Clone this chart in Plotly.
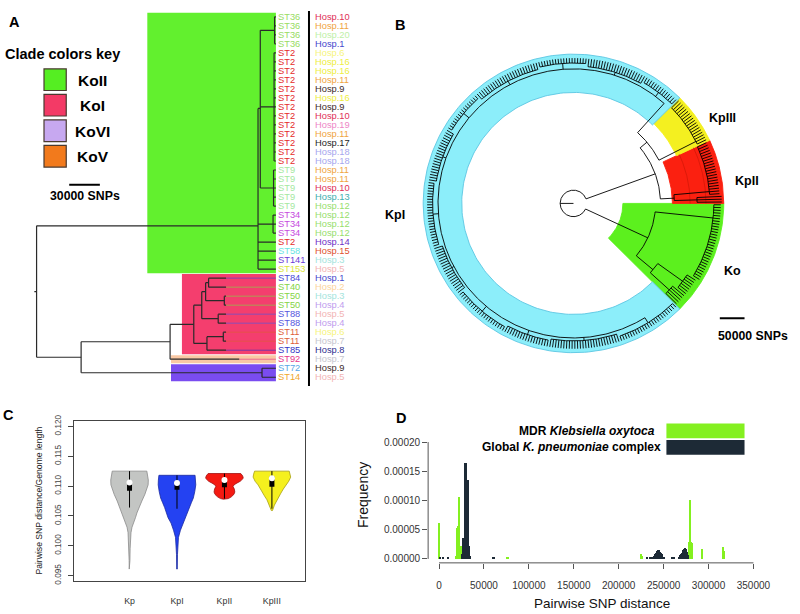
import numpy as np
import plotly.graph_objects as go

W, H = 800, 614
FONT = "Liberation Sans, Arial, sans-serif"


def PX(x):
    return x / W


def PY(y):
    return 1 - y / H


# ====================== Panel A data ======================
st_labels = (["ST36"] * 4 + ["ST2"] * 13 + ["ST9"] * 5 + ["ST34"] * 3 +
             ["ST2", "ST58", "ST141", "ST153", "ST84", "ST40", "ST50", "ST50",
              "ST88", "ST88", "ST11", "ST11", "ST85", "ST92", "ST72", "ST14"])
hosp_labels = [10, 11, 20, 1, 6, 16, 16, 11, 9, 16, 9, 10, 19, 11, 17, 18, 18,
               11, 11, 10, 13, 12, 12, 12, 12, 14, 15, 3, 5,
               1, 2, 3, 4, 5, 4, 6, 7, 8, 7, 9, 5]
st_colors = {"ST36": "#98dc62", "ST2": "#e52a2a", "ST9": "#a4e8a0", "ST34": "#c64ade",
             "ST58": "#6ae4e4", "ST141": "#6a3ad6", "ST153": "#dce43a", "ST84": "#4848d6",
             "ST40": "#84d444", "ST50": "#84d444", "ST88": "#5656de", "ST11": "#de5e38",
             "ST85": "#3434c4", "ST92": "#e6368a", "ST72": "#58a6e6", "ST14": "#f0a62a"}
hosp_colors = {1: "#4646cc", 2: "#fcd49c", 3: "#a4e4dc", 4: "#c09cee", 5: "#f2b4b4",
               6: "#f6f47c", 7: "#c6c6ce", 8: "#2e2e8e", 9: "#402a2a", 10: "#e02e56",
               11: "#f0a43e", 12: "#96de6c", 13: "#3eaeae", 14: "#6e2ec6", 15: "#e0502e",
               16: "#eeee3e", 17: "#1e1e1e", 18: "#a6a6ee", 19: "#ee86c6", 20: "#bef0a6"}

# tree topology: (node depth in SNPs, [children]); ints are leaf rows
treeA = (0, [
    (216800, [
        (219000, [(233000, [0, 1, 2, 3]), (232500, list(range(4, 17))),
                  (232000, [17, 18, 19, 20, 21])]),
        (231500, [22, 23, 24]),
        25, 26, 27, 28,
    ]),
    (43600, [
        (130700, [
            (153900, [
                (161700, [
                    (165500, [(168400, [29, 30]), (183800, [31, 32])]),
                    (177800, [33, 34]),
                ]),
                (166800, [(182800, [35, 36]), 37]),
            ]),
            38,
        ]),
        (220700, [39, 40]),
    ]),
])
tipA = [234300] * 29 + [185500] * 9 + [198400] + [234300] * 2
align_tip = 234300

cladeA_first = [0, 29, 38, 39]
cladeA_last = [28, 37, 38, 40]
cladeA_start = [108400, 142300, 131600, 131600]
cladeA_fill = ["#62f02e", "#f43e6e", "#f9c8a4", "#7a4cf0"]

legendA_names = ["KoII", "KoI", "KoVI", "KoV"]
legendA_colors = ["#55ee22", "#f33a66", "#c7a8f0", "#f27a1c"]
scaleA_snps = 30000

# ====================== Panel B data ======================
sectorB_names = ["Ko", "KpII", "KpIII", "KpI"]
sectorB_start = [315, 0, 25, 45]
sectorB_end = [360, 25, 45, 315]
sectorB_inner = [100000, 200000, 230000, 226000]
sectorB_outer = [304000, 304000, 304000, 304000]
sectorB_fill = ["#5cf01e", "#fb2010", "#f4f020", "#8ceefa"]
sectorB_line = ["#5cf01e", "#fb2010", "#f4f020", "#5cc6e2"]
kpII_band_radii = [236000, 268000]

kpI_comb_sizes = [14, 22, 18, 25, 16, 20, 24, 19, 21, 17, 26, 24]
kpI_comb_radii = [284000, 280000, 286000, 282000, 288000, 281000,
                  285000, 279000, 287000, 283000, 280000, 286000]

treeB = {"r": 27000, "a": 180, "kids": [
    {"r": 166000, "a": 335, "kids": [                      # Ko
        {"r": 210000, "a": 320, "kids": [
            {"comb": 5, "r": 262000, "tip": 292000},
            {"comb": 7, "r": 272000, "tip": 292000}]},
        {"comb": 29, "r": 284000, "tip": 298000, "a": 354}]},
    {"r": 176000, "a": 20, "kids": [                       # Kp
        {"r": 204000, "a": 3, "kids": [                    # KpII
            {"comb": 3, "r": 250000, "tip": 300000},
            {"comb": 20, "r": 276000, "tip": 296000, "a": 5}]},
        {"r": 194000, "a": 40, "kids": [
            {"comb": 18, "r": 278000, "tip": 298000, "a": 27},   # KpIII
            {"r": 274000, "a": 48, "kids": [                     # KpI
                {"comb": n, "r": r, "tip": 296000}
                for n, r in zip(kpI_comb_sizes, kpI_comb_radii)]}]}]}]}
scaleB_snps = 50000

# ====================== Panel C data ======================
vio_names = ["Kp", "KpI", "KpII", "KpIII"]
vio_fill = ["#c3c5c3", "#2442f2", "#f41a12", "#f5f01e"]
vio_line = ["#8a8a8a", "#1a2aa0", "#a01010", "#a8a010"]
vio_vals = [
    [0.1125, 0.1118, 0.1110, 0.1102, 0.1094, 0.1086, 0.1075, 0.1064, 0.1055, 0.1047,
     0.1040, 0.1031, 0.1022, 0.1010, 0.0995, 0.0975, 0.0961],
    [0.1118, 0.1110, 0.1102, 0.1091, 0.1080, 0.1072, 0.1064, 0.1055, 0.1047, 0.1038,
     0.1026, 0.1014, 0.1000, 0.0985, 0.0961],
    [0.1121, 0.1117, 0.1113, 0.1108, 0.1104, 0.1100, 0.1095, 0.1090, 0.1086, 0.1082,
     0.1079, 0.1078],
    [0.1125, 0.1120, 0.1115, 0.1108, 0.1102, 0.1095, 0.1088, 0.1082, 0.1077, 0.1072,
     0.1068, 0.1063, 0.1059],
]
vio_width = [
    [0.365, 0.385, 0.396, 0.392, 0.365, 0.323, 0.260, 0.198, 0.156, 0.125,
     0.094, 0.052, 0.031, 0.019, 0.0125, 0.008, 0.006],
    [0.381, 0.392, 0.396, 0.375, 0.344, 0.302, 0.260, 0.219, 0.188, 0.125,
     0.073, 0.031, 0.017, 0.010, 0.006],
    [0.344, 0.385, 0.396, 0.333, 0.240, 0.177, 0.208, 0.219, 0.198, 0.146,
     0.083, 0.021],
    [0.365, 0.385, 0.396, 0.354, 0.292, 0.240, 0.188, 0.146, 0.104, 0.073,
     0.052, 0.031, 0.0125],
]
box_lw = [0.1064, 0.1062, 0.1079, 0.1062]
box_q1 = [0.1092, 0.1094, 0.1098, 0.1099]
box_med = [0.1106, 0.1105, 0.1110, 0.1113]
box_q3 = [0.1109, 0.1108, 0.1113, 0.1116]
box_uw = [0.1125, 0.1118, 0.1121, 0.1125]
c_yticks = [0.095, 0.100, 0.105, 0.110, 0.115, 0.120]

# ====================== Panel D data ======================
green_x = [500, 19000, 20000, 21000, 22000, 23000, 24000, 25000, 34000, 35000,
           76000, 77000, 225000, 226000, 279000, 280000, 281000, 282000, 293000,
           316000, 317000, 318000]
green_y = [0.000060, 0.000004, 0.000052, 0.000055, 0.000106, 0.000104, 0.000022,
           0.000022, 0.000006, 0.000003, 0.000003, 0.000003, 0.000007, 0.000005,
           0.000028, 0.000101, 0.000028, 0.000027, 0.000016, 0.000019, 0.000013,
           0.000013]
dark_x = [1000, 5000, 10000, 26000, 27000, 28000, 29000, 30000, 31000, 32000, 33000,
          34000, 35000, 60000, 61000, 232000, 235000, 237000, 239000, 240000, 241000,
          242000, 243000, 244000, 245000, 246000, 247000, 248000, 249000, 250000,
          251000, 260000, 261000, 262000, 267000, 268000, 269000, 270000, 271000,
          272000, 273000, 274000, 275000, 276000, 277000]
dark_y = [0.0000015, 0.000001, 0.000001, 0.000008, 0.000035, 0.000036, 0.000164,
          0.000163, 0.000135, 0.000134, 0.000024, 0.000022, 0.000004, 0.000002,
          0.000002, 0.000002, 0.000003, 0.000003, 0.000004, 0.000005, 0.000007,
          0.000010, 0.000013, 0.000014, 0.000014, 0.000012, 0.000010, 0.000007,
          0.000005, 0.000003, 0.000002, 0.000003, 0.000003, 0.000002, 0.000003,
          0.000004, 0.000006, 0.000008, 0.000010, 0.000014, 0.000017, 0.000018,
          0.000016, 0.000012, 0.000006]
d_xticks = [0, 50000, 100000, 150000, 200000, 250000, 300000, 350000]
d_yticks = [0, 0.00005, 0.00010, 0.00015, 0.00020]
legendD_labels = ["<b>MDR <i>Klebsiella oxytoca</i></b>",
                  "<b>Global <i>K. pneumoniae</i> complex</b>"]
legendD_colors = ["#84f020", "#1d2a36"]

# ====================== build figure ======================
fig = go.Figure()
shapes, annos = [], []


def txt(x, y, s, size, color="black", xanchor="center", yanchor="middle",
        angle=0, xref="paper", yref="paper"):
    annos.append(dict(x=x, y=y, text=s, xref=xref, yref=yref, showarrow=False,
                      xanchor=xanchor, yanchor=yanchor, textangle=angle,
                      borderpad=0, borderwidth=0,
                      font=dict(size=size, color=color, family=FONT)))


# ---------- Panel A ----------
A_SNP_PER_PX, A_ROOT_PX = 968, 37
ROW0, ROWH = 10, 9.175

for f, l, s, c in zip(cladeA_first, cladeA_last, cladeA_start, cladeA_fill):
    shapes.append(dict(type="rect", xref="x", yref="y", x0=s, x1=align_tip,
                       y0=f - 0.45, y1=l + 0.45, fillcolor=c, line=dict(width=0),
                       layer="below"))

segx, segy = [], []


def add_seg(x0, y0, x1, y1):
    segx.extend([x0, x1, None])
    segy.extend([y0, y1, None])


def layoutA(node, parent_d):
    if isinstance(node, int):
        add_seg(parent_d, node, tipA[node], node)
        return node
    d, kids = node
    ys = [layoutA(k, d) for k in kids]
    y = sum(ys) / len(ys)
    add_seg(d, min(ys), d, max(ys))
    if parent_d is not None:
        add_seg(parent_d, y, d, y)
    else:
        add_seg(-2200, y, d, y)
    return y


layoutA(treeA, None)

# aligned tip extensions
for i in range(41):
    if tipA[i] < align_tip:
        fig.add_trace(go.Scatter(x=[tipA[i], align_tip], y=[i, i], mode="lines",
                                 line=dict(color=st_colors[st_labels[i]], width=1),
                                 opacity=0.65, hoverinfo="skip", xaxis="x", yaxis="y"))
fig.add_trace(go.Scatter(x=segx, y=segy, mode="lines",
                         line=dict(color="#2a2a2a", width=1.2),
                         hoverinfo="skip", xaxis="x", yaxis="y"))

for i in range(41):
    txt(PX(281.5), i, st_labels[i], 9.3, st_colors[st_labels[i]], xanchor="left", yref="y")
    txt(PX(318.5), i, "Hosp.%d" % hosp_labels[i], 9.3, hosp_colors[hosp_labels[i]],
        xanchor="left", yref="y")
shapes.append(dict(type="line", xref="paper", yref="paper", x0=PX(312.5), x1=PX(312.5),
                   y0=PY(4), y1=PY(386), line=dict(color="black", width=2)))

# legend of clade colours
txt(PX(63), PY(48), "<b>Clade colors key</b>", 14.5)
box_tops = [63, 89, 115, 141]
for name, col, t in zip(legendA_names, legendA_colors, box_tops):
    shapes.append(dict(type="rect", xref="paper", yref="paper", x0=PX(44.5), x1=PX(67),
                       y0=PY(t), y1=PY(t + 22), fillcolor=col,
                       line=dict(color="#4a3a30", width=1.2)))
    txt(PX(94), PY(t + 11.5), "<b>%s</b>" % name, 15.5)
# 30000 SNP scale bar in tree units
sx0 = (70 - A_ROOT_PX) * A_SNP_PER_PX
shapes.append(dict(type="line", xref="x", yref="paper", x0=sx0, x1=sx0 + scaleA_snps,
                   y0=PY(181), y1=PY(181), line=dict(color="black", width=2)))
txt(PX(86), PY(192.5), "<b>%d SNPs</b>" % scaleA_snps, 12.3)

# ---------- Panel B ----------
DEG = np.pi / 180
for a0, a1, r0, r1, fc, lc in zip(sectorB_start, sectorB_end, sectorB_inner,
                                  sectorB_outer, sectorB_fill, sectorB_line):
    t = np.linspace(a0, a1, 200) * DEG
    xs = np.concatenate([r1 * np.cos(t), r0 * np.cos(t[::-1])])
    ys = np.concatenate([r1 * np.sin(t), r0 * np.sin(t[::-1])])
    xs = np.append(xs, xs[0])
    ys = np.append(ys, ys[0])
    fig.add_trace(go.Scatter(x=xs, y=ys, mode="lines", fill="toself", fillcolor=fc,
                             line=dict(color=lc, width=0.9), hoverinfo="skip",
                             xaxis="x2", yaxis="y2"))
# faint sub-bands inside KpII
for rb in kpII_band_radii:
    t = np.linspace(sectorB_start[1], sectorB_end[1], 60) * DEG
    fig.add_trace(go.Scatter(x=rb * np.cos(t), y=rb * np.sin(t), mode="lines",
                             line=dict(color="#d41808", width=0.8), hoverinfo="skip",
                             xaxis="x2", yaxis="y2"))

n_leaves_B = 41 + 23 + 18 + sum(kpI_comb_sizes)
dA = 360.0 / n_leaves_B
bx, by = [], []
leaf_counter = [0]


def radial(r0, r1, a):
    bx.extend([r0 * np.cos(a * DEG), r1 * np.cos(a * DEG), None])
    by.extend([r0 * np.sin(a * DEG), r1 * np.sin(a * DEG), None])


def arc(r, a0, a1):
    if a1 - a0 < 1e-6:
        return
    t = np.linspace(a0, a1, max(3, int((a1 - a0) * 2) + 2)) * DEG
    bx.extend(list(r * np.cos(t)) + [None])
    by.extend(list(r * np.sin(t)) + [None])


def layoutB(node, parent_r):
    if "comb" in node:
        idx = range(leaf_counter[0], leaf_counter[0] + node["comb"])
        leaf_counter[0] += node["comb"]
        angs = [(315 + (i + 0.5) * dA) % 360 for i in idx]
        a = node.get("a", sum(angs) / len(angs))
        for t in angs:
            radial(node["r"], node["tip"], t)
        arc(node["r"], min(angs + [a]), max(angs + [a]))
    else:
        kid_a = [layoutB(k, node["r"]) for k in node["kids"]]
        a = node.get("a", sum(kid_a) / len(kid_a))
        arc(node["r"], min(kid_a + [a]), max(kid_a + [a]))
    radial(parent_r, node["r"], a)
    return a


layoutB(treeB, 0)
fig.add_trace(go.Scatter(x=bx, y=by, mode="lines", line=dict(color="black", width=0.9),
                         hoverinfo="skip", xaxis="x2", yaxis="y2"))

B_CX, B_CY, B_SNP_PER_PX = 580, 200, 2000
sbx0 = (728 - B_CX) * B_SNP_PER_PX
sby = (B_CY - 317) * B_SNP_PER_PX
shapes.append(dict(type="line", xref="x2", yref="y2", x0=sbx0, x1=sbx0 + scaleB_snps,
                   y0=sby, y1=sby, line=dict(color="black", width=2)))
txt(PX(762), PY(335), "<b>%d SNPs</b>" % scaleB_snps, 12.3)
txt(PX(731), PY(113), "<b>KpIII</b>", 12.5)
txt(PX(755), PY(177), "<b>KpII</b>", 12.5)
txt(PX(741), PY(269), "<b>Ko</b>", 12.5)
txt(PX(399), PY(212), "<b>KpI</b>", 12.5)

# ---------- Panel C ----------
for i in range(4):
    xc = i + 1
    v, w = vio_vals[i], vio_width[i]
    xs = [xc + a for a in w] + [xc - a for a in reversed(w)] + [xc + w[0]]
    ys = v + list(reversed(v)) + [v[0]]
    fig.add_trace(go.Scatter(x=xs, y=ys, mode="lines", fill="toself",
                             fillcolor=vio_fill[i], line=dict(color=vio_line[i], width=0.8),
                             hoverinfo="skip", xaxis="x3", yaxis="y3"))
    fig.add_trace(go.Scatter(x=[xc, xc], y=[box_lw[i], box_uw[i]], mode="lines",
                             line=dict(color="black", width=1), hoverinfo="skip",
                             xaxis="x3", yaxis="y3"))
    fig.add_trace(go.Scatter(x=[xc, xc], y=[box_q1[i], box_q3[i]], mode="lines",
                             line=dict(color="black", width=5), hoverinfo="skip",
                             xaxis="x3", yaxis="y3"))
    fig.add_trace(go.Scatter(x=[xc], y=[box_med[i]], mode="markers",
                             marker=dict(color="white", size=6, line=dict(width=0)),
                             hoverinfo="skip", xaxis="x3", yaxis="y3"))
txt(PX(39), PY(503), "Pairwise SNP distance/Genome length", 8.6, "#222", angle=-90)

# ---------- Panel D ----------
fig.add_trace(go.Bar(x=green_x, y=green_y, width=1300, marker=dict(color=legendD_colors[0],
                     line=dict(width=0)), hoverinfo="skip", xaxis="x4", yaxis="y4"))
fig.add_trace(go.Bar(x=dark_x, y=dark_y, width=1300, marker=dict(color=legendD_colors[1],
                     line=dict(width=0)), hoverinfo="skip", xaxis="x4", yaxis="y4"))
shapes.append(dict(type="line", xref="x4", yref="paper", x0=d_xticks[0], x1=d_xticks[-1],
                   y0=PY(566), y1=PY(566), line=dict(color="#555", width=1)))
shapes.append(dict(type="line", xref="paper", yref="y4", x0=PX(433), x1=PX(433),
                   y0=d_yticks[0], y1=d_yticks[-1], line=dict(color="#555", width=1)))
leg_tops = [424, 441]
leg_right = [662, 669]
for lab, col, t, rgt in zip(legendD_labels, legendD_colors, leg_tops, leg_right):
    shapes.append(dict(type="rect", xref="paper", yref="paper", x0=PX(674), x1=PX(753),
                       y0=PY(t), y1=PY(t + 15), fillcolor=col, line=dict(width=0)))
    txt(PX(rgt), PY(t + 7.5), lab, 12, xanchor="right")
txt(PX(609), PY(607.5), "Pairwise SNP distance", 13.5, "#111")
txt(PX(367), PY(497), "Frequency", 14, "#111", angle=-90)

# panel letters
txt(PX(15), PY(15), "<b>A</b>", 14.5)
txt(PX(405), PY(18), "<b>B</b>", 14.5)
txt(PX(9), PY(415), "<b>C</b>", 14.5)
txt(PX(406), PY(419), "<b>D</b>", 14.5)

# ---------- axes ----------
D_SNP_PER_PX = 350000 / 318.0
D_FREQ_PER_PX = 0.0002 / 119.0
fig.update_layout(
    width=W, height=H, margin=dict(l=0, r=0, t=0, b=0),
    paper_bgcolor="white", plot_bgcolor="white", showlegend=False,
    barmode="overlay", bargap=0,
    font=dict(family=FONT),
    xaxis=dict(domain=[0, 0.5], range=[-A_ROOT_PX * A_SNP_PER_PX,
                                         (400 - A_ROOT_PX) * A_SNP_PER_PX],
               visible=False, anchor="y"),
    yaxis=dict(domain=[PY(410), 1], range=[(410 - ROW0) / ROWH, -ROW0 / ROWH],
               visible=False, anchor="x"),
    xaxis2=dict(domain=[0.5, 1], range=[(400 - B_CX) * B_SNP_PER_PX,
                                          (800 - B_CX) * B_SNP_PER_PX],
                visible=False, anchor="y2"),
    yaxis2=dict(domain=[PY(410), 1], range=[(B_CY - 410) * B_SNP_PER_PX,
                                              B_CY * B_SNP_PER_PX],
                visible=False, anchor="x2"),
    xaxis3=dict(domain=[PX(75), PX(308)], range=[1 + (75 - 131) / 48.0, 1 + (308 - 131) / 48.0],
                anchor="y3", showline=True, mirror=True, linecolor="#444", linewidth=1.1,
                tickvals=[1, 2, 3, 4], ticktext=vio_names, ticks="outside", ticklen=12,
                tickcolor="rgba(0,0,0,0)", tickfont=dict(size=8.8, color="#333", family=FONT),
                showgrid=False, zeroline=False),
    yaxis3=dict(domain=[PY(584), PY(422)],
                range=[0.120 - (584 - 427) / 30.4 * 0.005, 0.120 - (422 - 427) / 30.4 * 0.005],
                anchor="x3", showline=True, mirror=True, linecolor="#444", linewidth=1.1,
                tickvals=c_yticks, ticktext=["%.3f" % v for v in c_yticks],
                ticks="outside", ticklen=5, tickcolor="#444", tickangle=-90,
                ticklabelstandoff=4,
                tickfont=dict(size=8.2, color="#444", family=FONT),
                showgrid=False, zeroline=False),
    xaxis4=dict(domain=[PX(433), PX(770)],
                range=[(433 - 444) * D_SNP_PER_PX, (770 - 444) * D_SNP_PER_PX],
                anchor="y4", showline=False, ticks="outside", ticklen=5, tickcolor="#555",
                ticklabelstandoff=8,
                tickvals=d_xticks, ticktext=[str(v) for v in d_xticks],
                tickfont=dict(size=10, color="#333", family=FONT),
                showgrid=False, zeroline=False),
    yaxis4=dict(domain=[PY(566), PY(425)],
                range=[(562 - 566) * D_FREQ_PER_PX, (562 - 425) * D_FREQ_PER_PX],
                anchor="x4", showline=False, ticks="outside", ticklen=5, tickcolor="#555",
                tickvals=d_yticks, ticktext=["%.5f" % v for v in d_yticks],
                tickfont=dict(size=10, color="#333", family=FONT),
                showgrid=False, zeroline=False),
    shapes=shapes, annotations=annos,
)

fig.write_html("out.html", config={"displayModeBar": False},
               post_script="document.body.style.margin='0px';")
